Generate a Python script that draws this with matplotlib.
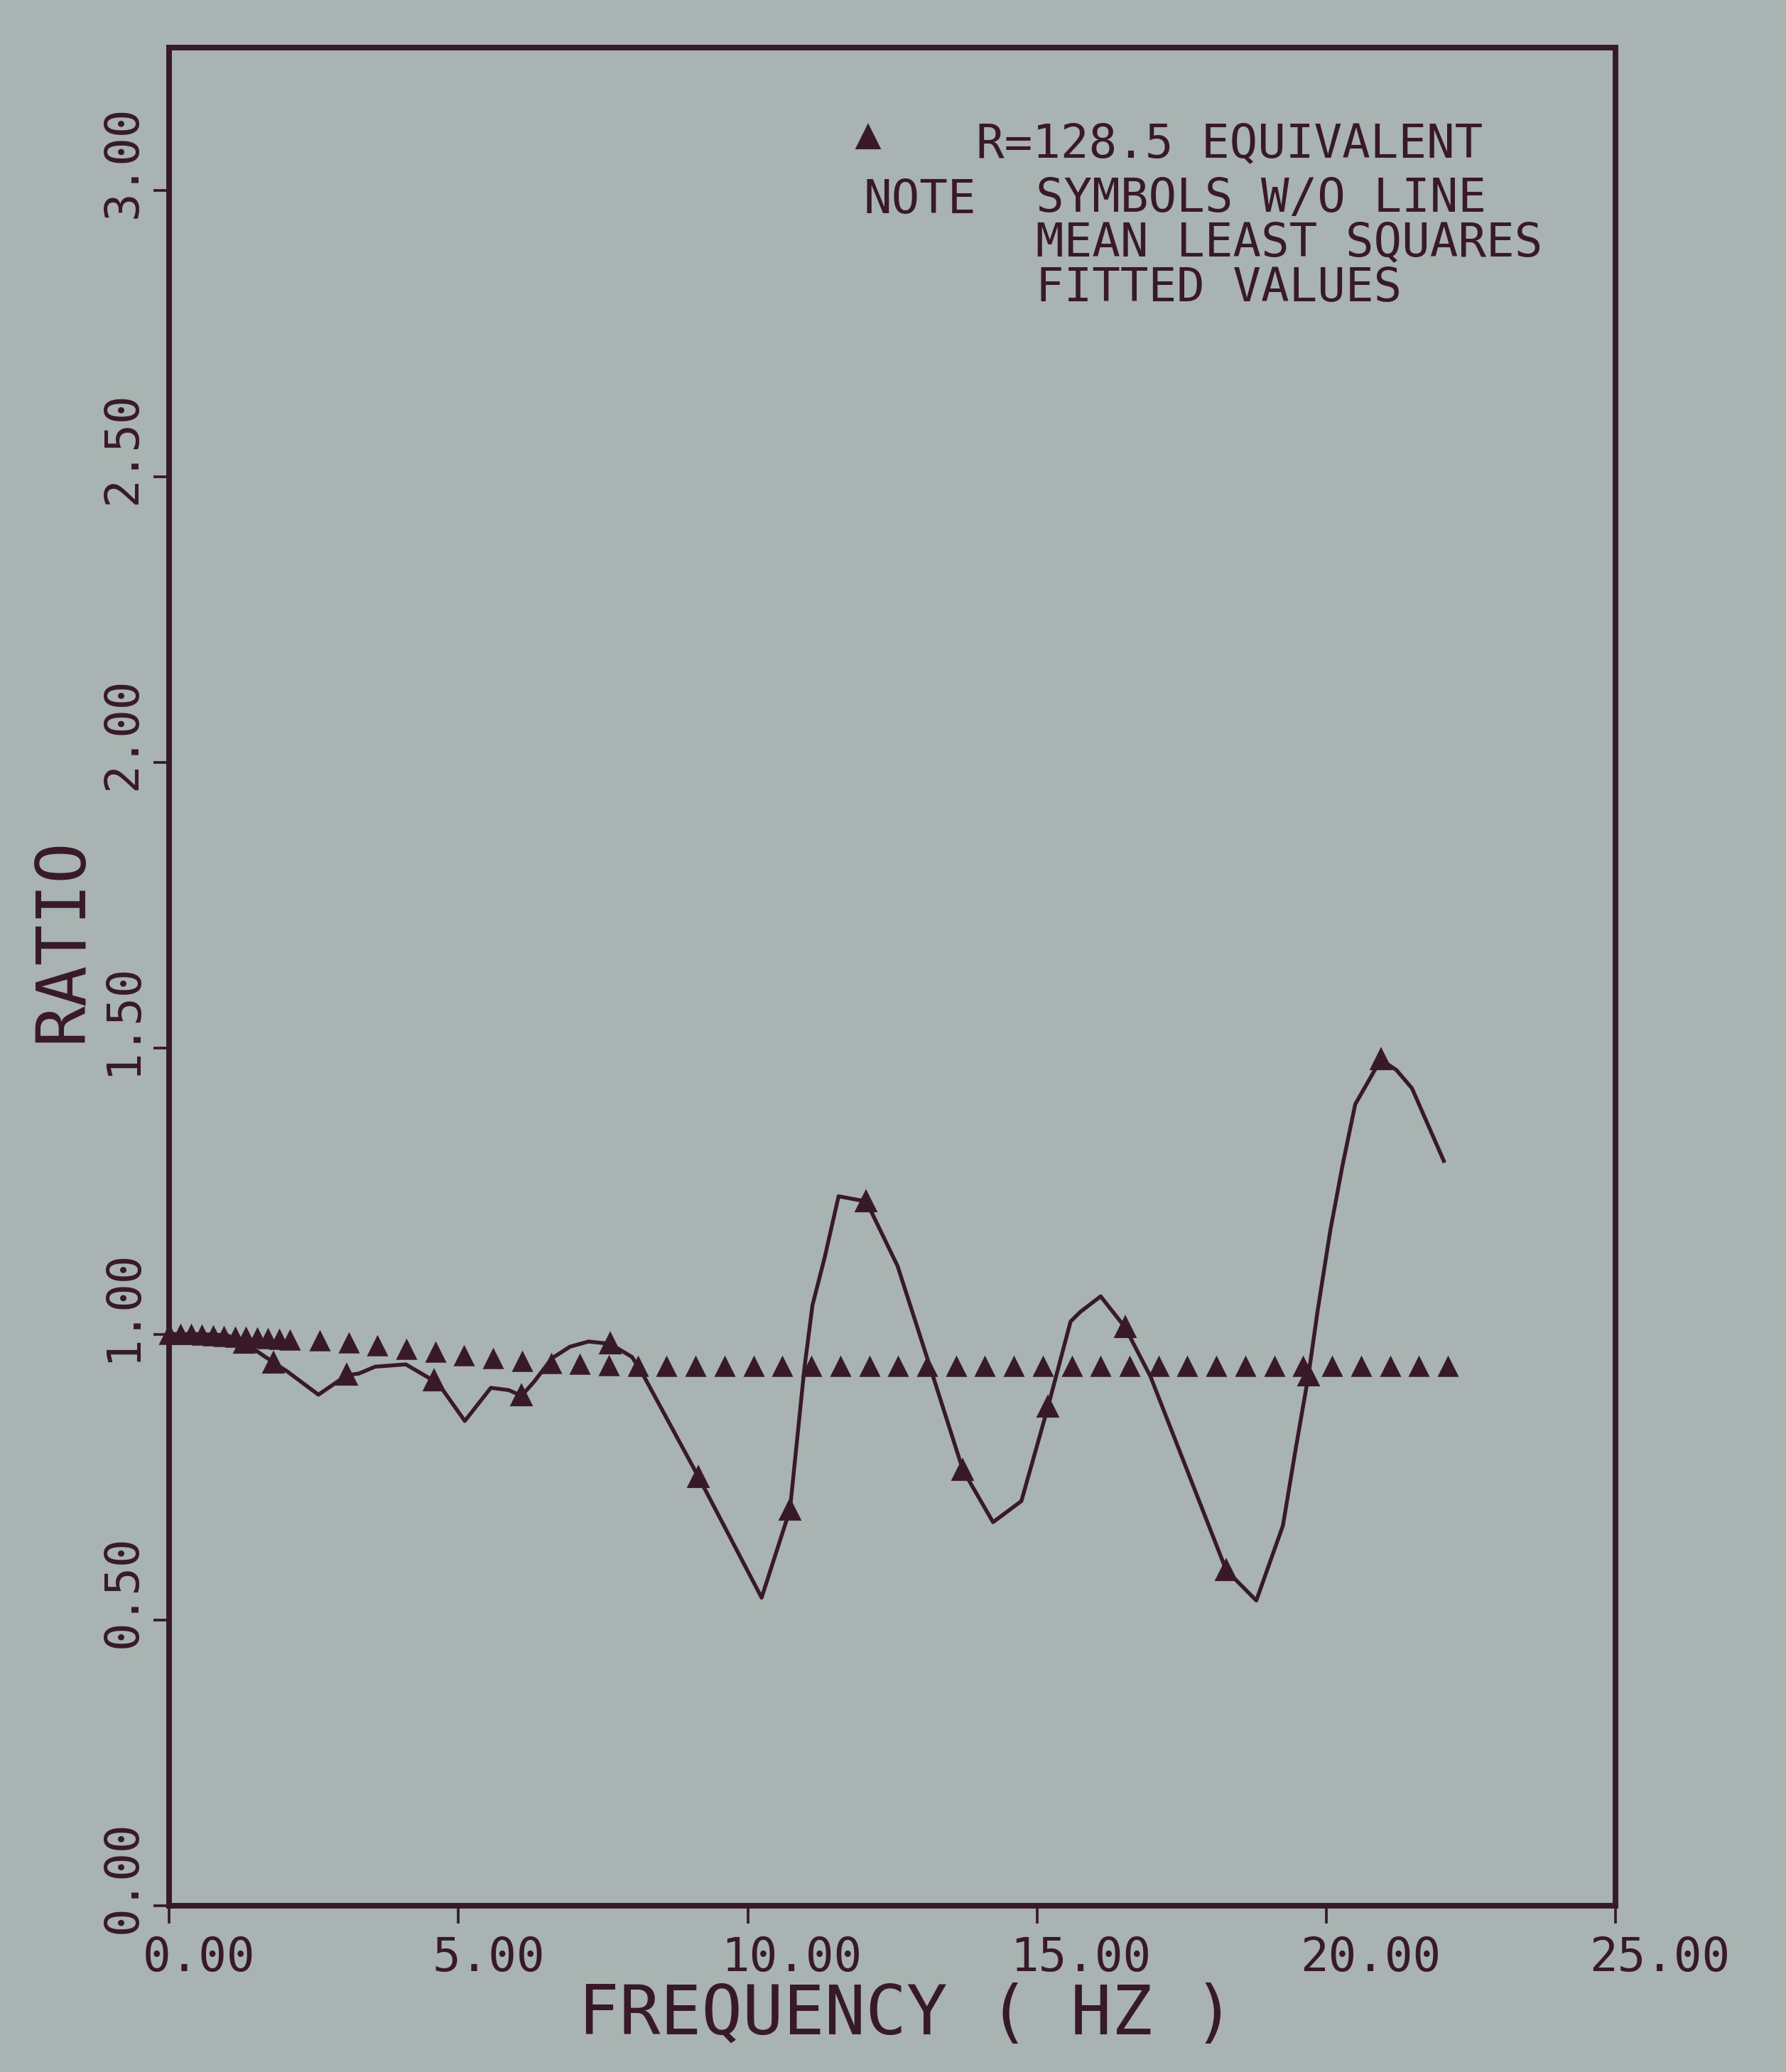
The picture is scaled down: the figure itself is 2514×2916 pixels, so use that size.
import matplotlib.pyplot as plt
from matplotlib.transforms import ScaledTranslation

# --- colours of the photographed plotter sheet ---------------------------------
PAPER = "#a9b3b1"
INK = "#38192a"

plt.rcParams["font.family"] = ["DejaVu Sans Mono", "DejaVu Sans"]
plt.rcParams["text.color"] = INK
plt.rcParams["axes.labelcolor"] = INK
plt.rcParams["xtick.color"] = INK
plt.rcParams["ytick.color"] = INK

# --- data ------------------------------------------------------------------------
# fitted values (symbols without line)
fit_freq = [0.0, 0.19, 0.38, 0.57, 0.76, 0.95, 1.14, 1.33, 1.52, 1.71, 1.90, 2.09,
            2.6, 3.1, 3.6, 4.1, 4.6, 5.1, 5.6, 6.1, 6.6, 7.1, 7.6, 8.1, 8.6, 9.1,
            9.6, 10.1, 10.6, 11.1, 11.6, 12.1, 12.6, 13.1, 13.6, 14.1, 14.6, 15.1,
            15.6, 16.1, 16.6, 17.1, 17.6, 18.1, 18.6, 19.1, 19.6, 20.1, 20.6, 21.1,
            21.6, 22.1]
fit_ratio = [1.0, 1.0, 0.999, 0.998, 0.997, 0.996, 0.995, 0.994, 0.993, 0.992, 0.991, 0.99,
             0.988, 0.984, 0.979, 0.973, 0.968, 0.962, 0.957, 0.952, 0.949, 0.947, 0.945,
             0.944, 0.944, 0.944, 0.944, 0.944, 0.944, 0.944, 0.944, 0.944, 0.944, 0.944,
             0.944, 0.944, 0.944, 0.944, 0.944, 0.944, 0.944, 0.944, 0.944, 0.944, 0.944,
             0.944, 0.944, 0.944, 0.944, 0.944, 0.944, 0.944]

# measured ratio (solid line)
line_freq = [0.0, 0.5, 1.0, 1.3, 1.81, 2.05, 2.58, 3.07, 3.28, 3.56, 4.09, 4.58, 4.74,
             5.11, 5.56, 5.87, 6.09, 6.31, 6.62, 6.93, 7.25, 7.62, 8.0, 8.18, 9.15,
             10.24, 10.73, 10.98, 11.12, 11.33, 11.57, 12.05, 12.59, 13.15, 13.72,
             14.24, 14.73, 15.19, 15.58, 15.75, 16.1, 16.52, 16.96, 18.27, 18.79,
             19.25, 19.47, 19.69, 19.85, 20.07, 20.28, 20.5, 20.94, 21.21, 21.48, 22.03]
line_ratio = [1.0, 1.0, 0.998, 0.985, 0.95, 0.934, 0.894, 0.928, 0.931, 0.943, 0.947,
              0.918, 0.901, 0.848, 0.906, 0.902, 0.892, 0.917, 0.958, 0.978, 0.987,
              0.983, 0.96, 0.931, 0.75, 0.539, 0.693, 0.941, 1.051, 1.134, 1.241,
              1.232, 1.119, 0.943, 0.762, 0.671, 0.708, 0.873, 1.022, 1.039, 1.066,
              1.012, 0.926, 0.587, 0.534, 0.665, 0.799, 0.927, 1.041, 1.182, 1.295,
              1.402, 1.48, 1.462, 1.43, 1.303]
# line vertices that carry a symbol
line_symbol_freq = [1.3, 1.81, 3.07, 4.58, 6.09, 7.62, 9.15, 10.73, 12.05, 13.72,
                    15.19, 16.52, 18.27, 19.69, 20.94]

x_ticks = [0, 5, 10, 15, 20, 25]
x_tick_labels = ["0.00", "5.00", "10.00", "15.00", "20.00", "25.00"]
y_ticks = [0.0, 0.5, 1.0, 1.5, 2.0, 2.5, 3.0]
y_tick_labels = ["0.00", "0.50", "1.00", "1.50", "2.00", "2.50", "3.00"]

legend_title = "R=128.5 EQUIVALENT"
note_word = "NOTE"
note_lines = ["SYMBOLS W/O LINE", "MEAN LEAST SQUARES", "FITTED VALUES"]

# --- figure ------------------------------------------------------------------------
fig = plt.figure(figsize=(8.38, 9.72), dpi=300, facecolor=PAPER)
ax = fig.add_axes([0.0947, 0.0802, 0.8099, 0.8968])
ax.set_facecolor(PAPER)

marked = [line_freq.index(f) for f in line_symbol_freq]
ax.plot(line_freq, line_ratio, color=INK, linewidth=1.3,
        marker="^", markersize=6.3, markevery=marked,
        markerfacecolor=INK, markeredgecolor=INK, clip_on=False)
ax.plot(fit_freq, fit_ratio, linestyle="none", marker="^", markersize=6.3,
        markerfacecolor=INK, markeredgecolor=INK, markeredgewidth=0.6,
        clip_on=False)

ax.set_xlim(0, 25)
ax.set_ylim(0, 3.25)

for side in ("left", "right", "top", "bottom"):
    ax.spines[side].set_color(INK)
    ax.spines[side].set_linewidth(1.9)

ax.set_xticks(x_ticks)
ax.set_xticklabels(x_tick_labels, fontsize=15.8)
ax.set_yticks(y_ticks)
ax.set_yticklabels(y_tick_labels, fontsize=15.8, rotation=90)
ax.tick_params(axis="x", direction="out", length=6, width=0.9, pad=4)
ax.tick_params(axis="y", direction="out", length=5.3, width=0.9, pad=2.5)

# plotter puts the labels a little ahead of the tick
shift_x = ScaledTranslation(-0.124, 0, fig.dpi_scale_trans)
for lab in ax.get_xticklabels():
    lab.set_horizontalalignment("left")
    lab.set_transform(lab.get_transform() + shift_x)
shift_y = ScaledTranslation(0, -0.13, fig.dpi_scale_trans)
for lab in ax.get_yticklabels():
    lab.set_verticalalignment("bottom")
    lab.set_transform(lab.get_transform() + shift_y)

ax.set_xlabel("FREQUENCY ( HZ )", fontsize=23, va="top")
ax.xaxis.set_label_coords(0.51, -0.041)
ax.set_ylabel("RATIO", fontsize=23)
ax.yaxis.set_label_coords(-0.051, 0.52)

# legend block
ax.plot([0.483], [0.952], transform=ax.transAxes, marker="^", markersize=7,
        color=INK, linestyle="none")
ax.text(0.558, 0.948, legend_title, transform=ax.transAxes, fontsize=15.8,
        ha="left", va="center")
ax.text(0.480, 0.918, note_word, transform=ax.transAxes, fontsize=15.8,
        ha="left", va="center")
ax.text(0.599, 0.931, "\n".join(note_lines), transform=ax.transAxes,
        fontsize=15.8, ha="left", va="top", linespacing=0.98)

fig.savefig("out.png", dpi=300, facecolor=PAPER)
